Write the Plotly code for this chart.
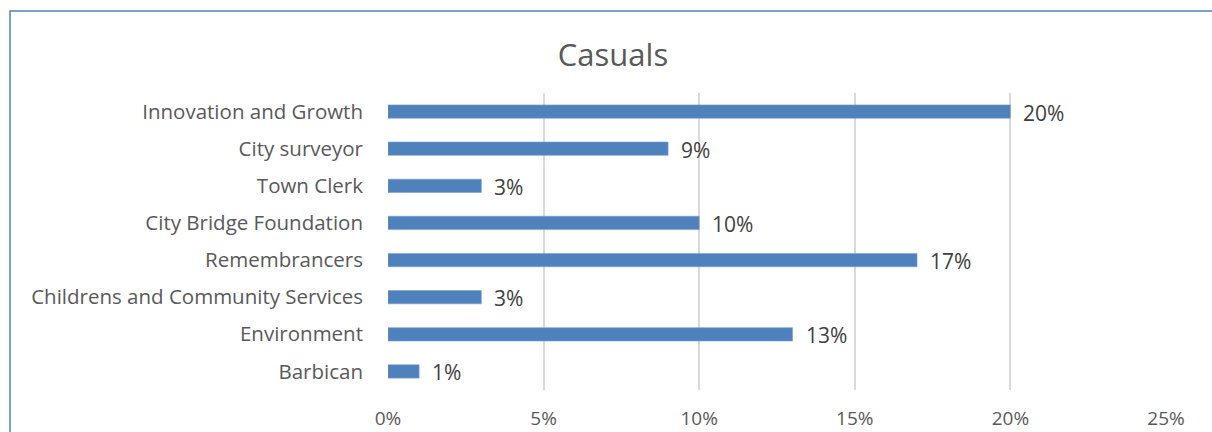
import plotly.graph_objects as go

# Casual staff share by department
departments = [
    "Innovation and Growth",
    "City surveyor",
    "Town Clerk",
    "City Bridge Foundation",
    "Remembrancers",
    "Childrens and Community Services",
    "Environment",
    "Barbican",
]
casual_share = [20, 9, 3, 10, 17, 3, 13, 1]
x_ticks = [0, 5, 10, 15, 20, 25]
x_tick_labels = ["0%", "5%", "10%", "15%", "20%", "25%"]

W, H = 1212, 432
ML, MR, MT, MB = 388, 46, 93, 42
BAR = "#4f81bd"
TXT = "#595959"
FONT = "'Open Sans', 'Noto Sans', sans-serif"

fig = go.Figure(
    go.Bar(
        x=casual_share,
        y=departments,
        orientation="h",
        marker=dict(color=BAR, line=dict(color="#7a9fcf", width=0.6)),
        width=0.36,
        hoverinfo="skip",
    )
)

# value labels to the right of each bar
for dep, v in zip(departments, casual_share):
    fig.add_annotation(
        x=v, y=dep, text=f"{v}%", showarrow=False,
        xanchor="left", yanchor="middle", xshift=11, yshift=-1,
        font=dict(family=FONT, size=21, color="#404040"),
    )

# thin blue frame around the chart, running off the right and bottom edges
pw, ph = W - ML - MR, H - MT - MB
x0 = (10 - ML) / pw
y1 = 1 + (MT - 11) / ph
fig.add_shape(
    type="path", xref="paper", yref="paper",
    path=f"M {x0},-0.3 L {x0},{y1} L 1.2,{y1}",
    line=dict(color="#4f81bd", width=1.5),
)

fig.update_layout(
    width=W, height=H,
    margin=dict(l=ML, r=MR, t=MT, b=MB, autoexpand=False),
    paper_bgcolor="white", plot_bgcolor="white",
    showlegend=False,
    title=dict(
        text="Casuals", x=613 / W, xanchor="center", xref="container",
        y=1 - 55 / H, yanchor="middle",
        font=dict(family=FONT, size=31, color=TXT),
    ),
    font=dict(family=FONT, color=TXT),
)
fig.update_xaxes(
    range=[0, 25], tickvals=x_ticks, ticktext=x_tick_labels,
    showgrid=True, gridcolor="#d9d9d9", gridwidth=1.5,
    zeroline=False, showline=False, ticks="",
    tickfont=dict(family=FONT, size=19, color=TXT),
    ticklabelstandoff=15, fixedrange=True,
)
fig.update_yaxes(
    categoryorder="array", categoryarray=departments[::-1],
    showgrid=False, zeroline=False, showline=False, ticks="",
    tickfont=dict(family=FONT, size=20.5, color=TXT),
    ticklabelstandoff=24, fixedrange=True,
)

fig.write_html("out.html", config={"displayModeBar": False})
